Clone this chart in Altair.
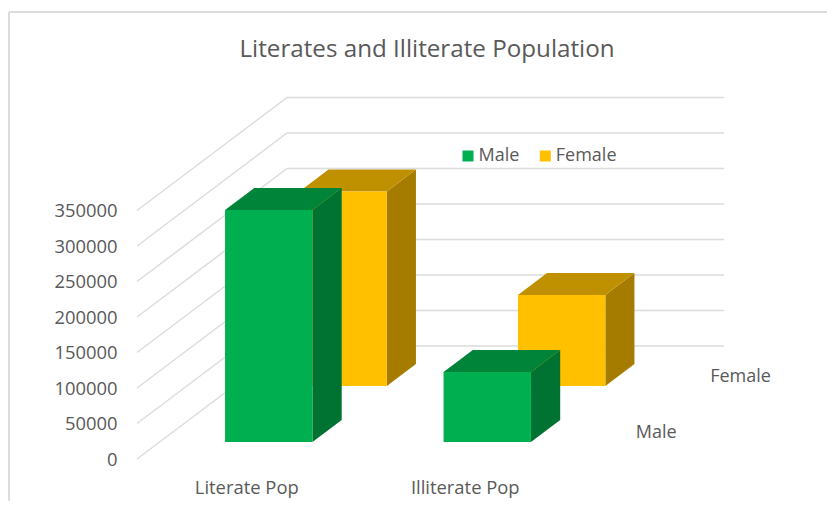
import altair as alt
import pandas as pd

# ---- values ----
categories = ["Literate Pop", "Illiterate Pop"]
series = ["Male", "Female"]
male_values = [326800, 98600]
female_values = [273900, 128200]
tick_values = [0, 50000, 100000, 150000, 200000, 250000, 300000, 350000]

title = "Literates and Illiterate Population"
font = "Open Sans"
text_color = "#595959"
grid_color = "#dcdcdc"
palette = {
    "Male": "#00B050", "Female": "#FFC000",
    "Male side": "#007232", "Female side": "#A67C00",
    "Male top": "#00843A", "Female top": "#BF9000",
}

# ---- layout of the oblique projection ----
PAD_L, PAD_T = 117, 52
W, H = 702, 415
ORIGIN_PX = 12            # x of the front-left wall corner, right of the plot's left edge
CAT_PX = 218.5            # width of a category
UNITS_PER_PX = 350000 / 248.5
ZERO_PX = 399             # y of value 0 inside the plot
DEPTH_DX = 150 / CAT_PX   # category units per unit of depth
DEPTH_DY = 113 * UNITS_PER_PX  # value units per unit of depth
BAR_W = 0.4
GAP = 0.3
DEPTH = {"Male": (0.15, 0.345), "Female": (0.646, 0.84)}

x_scale = alt.Scale(domain=[-ORIGIN_PX / CAT_PX, (W - ORIGIN_PX) / CAT_PX], nice=False, zero=False)
y_scale = alt.Scale(domain=[(ZERO_PX - H) * UNITS_PER_PX, ZERO_PX * UNITS_PER_PX], nice=False, zero=False)
color_scale = alt.Scale(domain=list(palette), range=list(palette.values()))


def X(u, d):
    return u + DEPTH_DX * d


def Y(v, d):
    return v + DEPTH_DY * d


front, sides, tops = [], [], []
for name, vals in (("Male", male_values), ("Female", female_values)):
    d0, d1 = DEPTH[name]
    for i, cat in enumerate(categories):
        v = vals[i]
        l, r = i + GAP, i + GAP + BAR_W
        key = f"{name}-{cat}"
        front.append(dict(s=name, bar=key, f=name, x=X(l, d0), x2=X(r, d0), y=Y(v, d0), y2=Y(0, d0)))
        for d in (d0, d1):
            sides.append(dict(s=name, bar=key, f=f"{name} side", x=X(r, d), y=Y(v, d), y2=Y(0, d)))
            tops.append(dict(s=name, bar=key, f=f"{name} top", x=X(l, d), x2=X(r, d), y=Y(v, d)))
front, sides, tops = map(pd.DataFrame, (front, sides, tops))

grid = []
for t in tick_values:
    for u, d in ((0, 0), (0, 1), (2, 1)):
        grid.append(dict(tick=t, x=X(u, d), y=Y(t, d)))
grid = pd.DataFrame(grid)

depth_labels = pd.DataFrame([
    dict(label=n, x=X(2.113, sum(DEPTH[n]) / 2), y=Y(0, sum(DEPTH[n]) / 2)) for n in series
])
ax_x = alt.X("x:Q", scale=x_scale, axis=alt.Axis(
    values=[0.5, 1.5], labelExpr=f"datum.value < 1 ? '{categories[0]}' : '{categories[1]}'",
    domain=False, ticks=False, grid=False, title=None, labelPadding=3,
    labelFont=font, labelFontSize=18.4, labelColor=text_color))
ax_y = alt.Y("y:Q", scale=y_scale, axis=alt.Axis(
    values=tick_values, format="d", domain=False, ticks=False, grid=False, title=None, labelPadding=8,
    labelFont=font, labelFontSize=18.4, labelColor=text_color))

legend = alt.Legend(
    values=series, title=None, orient="none", legendX=334, legendY=87,
    direction="horizontal", columns=2, columnPadding=16.3, symbolType="square", symbolSize=121,
    symbolStrokeWidth=0, labelOffset=1.5, labelFont=font, labelFontSize=18, labelColor=text_color)
color = alt.Color("f:N", scale=color_scale, legend=legend)

grid_layer = alt.Chart(grid).mark_line(color=grid_color, strokeWidth=1.5).encode(
    x=ax_x, y=ax_y, detail="tick:N", order="x:Q")


def faces(name):
    s = alt.Chart(sides[sides.s == name]).mark_area().encode(
        x=ax_x, y=ax_y, y2="y2:Q", color=color, detail="bar:N")
    t = alt.Chart(tops[tops.s == name]).mark_area(orient="horizontal").encode(
        y=ax_y, x=ax_x, x2="x2:Q", color=color, detail="bar:N")
    f = alt.Chart(front[front.s == name]).mark_rect().encode(
        x=ax_x, x2="x2:Q", y=ax_y, y2="y2:Q", color=color)
    return s + t + f


labels = alt.Chart(depth_labels).mark_text(
    align="left", baseline="middle", dy=2, font=font, fontSize=18, color=text_color
).encode(x=ax_x, y=ax_y, text="label:N")

frame = alt.Chart(pd.DataFrame({"k": [0]}))
frame_left = frame.mark_rule(color=grid_color, strokeWidth=2).encode(
    x=alt.value(-116), y=alt.value(-48), y2=alt.value(H + 26))
frame_top = frame.mark_rule(color=grid_color, strokeWidth=2).encode(
    x=alt.value(-116), x2=alt.value(W), y=alt.value(-48))

chart = alt.layer(
    frame_left, frame_top, grid_layer, labels, faces("Female"), faces("Male")
).properties(
    width=W, height=H,
    padding={"left": PAD_L, "top": PAD_T, "right": 0, "bottom": 26},
    autosize=alt.AutoSizeParams(type="none"),
    title=alt.TitleParams(title, anchor="middle", frame="group", dx=-49, dy=53, offset=2,
                          font=font, fontSize=24.2, fontWeight="normal", color=text_color),
).configure_view(stroke=None)

chart.save("out.html", embed_options={"renderer": "svg", "actions": False})
